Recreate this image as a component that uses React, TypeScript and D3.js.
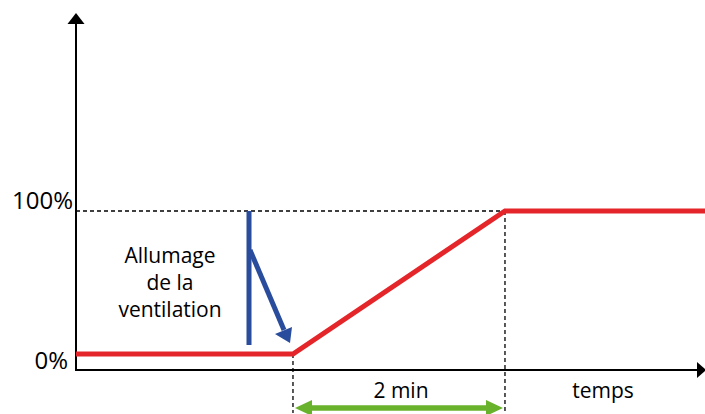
import React from "react";
import * as d3 from "d3";

// Time (minutes) and fan level (%)
const times = [0, 2.047, 4.047, 5.934];
const levels = [0, 0, 100, 100];
const yTicks = [0, 100];
const yTickLabels = ["0%", "100%"];
const durationLabel = "2 min";
const xAxisLabel = "temps";
const annotationLines = ["Allumage", "de la", "ventilation"];

const W = 705;
const H = 414;
const RED = "#e4262a";
const BLUE = "#2a4c9c";
const GREEN = "#69b22c";
const FONT = "'Open Sans', 'Noto Sans', sans-serif";

export default function App() {
  const x = d3.scaleLinear().domain([0, 5.934]).range([76, 705]);
  const y = d3.scaleLinear().domain([0, 100]).range([354, 211]);
  const axisY = 370;
  const axisTop = 13;

  const line = d3
    .line<number>()
    .x((_, i) => x(times[i]))
    .y((d) => y(d));

  const riseStart = x(times[1]);
  const riseEnd = x(times[2]);
  const greenY = 408;
  const blueX = 249;

  return (
    <svg
      width={W}
      height={H}
      style={{ position: "absolute", left: 0, top: 0, background: "#fff" }}
      fontFamily={FONT}
    >
      {/* dashed guides */}
      <line x1={x(0)} x2={riseEnd} y1={y(100)} y2={y(100)} stroke="#000" strokeWidth={1.3} strokeDasharray="4,3" />
      <line x1={riseStart} x2={riseStart} y1={y(0)} y2={413} stroke="#000" strokeWidth={1.3} strokeDasharray="4,3" />
      <line x1={riseEnd} x2={riseEnd} y1={y(100)} y2={411} stroke="#000" strokeWidth={1.3} strokeDasharray="4,3" />

      {/* axes */}
      <line x1={x(0)} x2={x(0)} y1={axisY} y2={axisTop + 8} stroke="#000" strokeWidth={2} />
      <path d={`M${x(0)},${axisTop} L${x(0) + 8.5},${axisTop + 11} L${x(0) - 8.5},${axisTop + 11} Z`} fill="#000" />
      <line x1={x(0) - 1} x2={697} y1={axisY} y2={axisY} stroke="#000" strokeWidth={2} />
      <path d={`M${706},${axisY} L${697},${axisY - 8} L${697},${axisY + 8} Z`} fill="#000" />

      {/* y tick labels */}
      {yTicks.map((t, i) => (
        <text
          key={t}
          x={t === 100 ? 73 : 68}
          y={t === 100 ? y(t) - 2 : axisY - 1}
          textAnchor="end"
          fontSize={24}
          fill="#000"
        >
          {yTickLabels[i]}
        </text>
      ))}

      {/* red curve */}
      <path d={line(levels) || ""} fill="none" stroke={RED} strokeWidth={5} strokeLinejoin="miter" />

      {/* blue annotation */}
      <line x1={blueX} x2={blueX} y1={y(100)} y2={345} stroke={BLUE} strokeWidth={5} />
      <line x1={blueX + 1} y1={250} x2={284} y2={330} stroke={BLUE} strokeWidth={5} />
      <path d="M290,343 L275,334 L292,327 Z" fill={BLUE} />

      {annotationLines.map((s, i) => (
        <text key={s} x={170} y={263 + i * 27} textAnchor="middle" fontSize={21} fill="#000">
          {s}
        </text>
      ))}

      {/* green duration arrow */}
      <line x1={riseStart + 14} x2={riseEnd - 14} y1={greenY} y2={greenY} stroke={GREEN} strokeWidth={5.5} />
      <path d={`M${riseStart + 2},${greenY} L${riseStart + 19},${greenY - 8} L${riseStart + 19},${greenY + 8} Z`} fill={GREEN} />
      <path d={`M${riseEnd - 2},${greenY} L${riseEnd - 19},${greenY - 8} L${riseEnd - 19},${greenY + 8} Z`} fill={GREEN} />

      <text x={(riseStart + riseEnd) / 2 + 2} y={398} textAnchor="middle" fontSize={21} fill="#000">
        {durationLabel}
      </text>
      <text x={603} y={398} textAnchor="middle" fontSize={21} fill="#000">
        {xAxisLabel}
      </text>
    </svg>
  );
}
